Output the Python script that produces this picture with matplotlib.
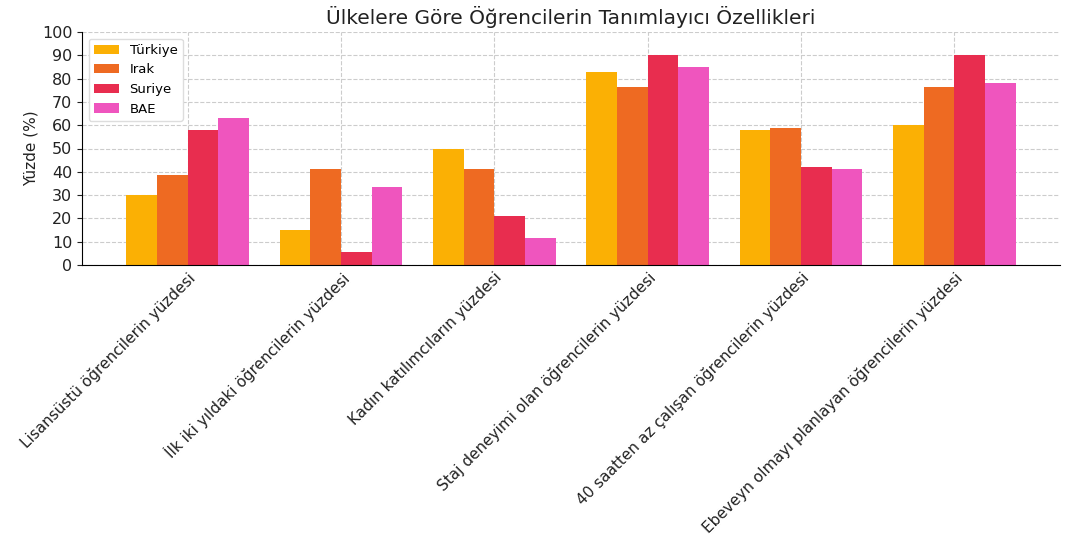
import matplotlib
matplotlib.use("Agg")
import matplotlib.pyplot as plt
import numpy as np

categories = [
    "Lisansüstü öğrencilerin yüzdesi",
    "İlk iki yıldaki öğrencilerin yüzdesi",
    "Kadın katılımcıların yüzdesi",
    "Staj deneyimi olan öğrencilerin yüzdesi",
    "40 saatten az çalışan öğrencilerin yüzdesi",
    "Ebeveyn olmayı planlayan öğrencilerin yüzdesi",
]
countries = ["Türkiye", "Irak", "Suriye", "BAE"]
turkiye = [30, 15, 50, 83, 58, 60]
irak = [38.5, 41, 41, 76.5, 59, 76.5]
suriye = [58, 5.5, 21, 90, 42, 90]
bae = [63, 33.5, 11.5, 85, 41, 78]
series = [turkiye, irak, suriye, bae]
colors = ["#FBB004", "#EE6A22", "#E82D4F", "#EF55BE"]

fig = plt.figure(figsize=(10.65, 5.45), dpi=100)
ax = fig.add_axes([82 / 1065, 1 - 265 / 545, (1060 - 82) / 1065, (265 - 32) / 545])

x = np.arange(len(categories))
w = 0.2
for i, (vals, c, name) in enumerate(zip(series, colors, countries)):
    ax.bar(x + (i - 1.5) * w, vals, w, color=c, label=name, zorder=2)

ax.set_xlim(-0.69, 5.69)
ax.set_ylim(0, 100)
ax.set_yticks(np.arange(0, 101, 10))
ax.tick_params(axis="y", labelsize=11.5, colors="#222222")
ax.tick_params(axis="x", length=0)
ax.set_xticks(x)
ax.set_xticklabels(categories, rotation=45, ha="right", rotation_mode="anchor",
                   fontsize=11, color="#222222")
ax.set_ylabel("Yüzde (%)", fontsize=11, color="#222222", labelpad=2)
ax.set_title("Ülkelere Göre Öğrencilerin Tanımlayıcı Özellikleri", fontsize=14.5,
             color="#222222", pad=6)
ax.grid(True, linestyle="--", color="#cccccc", linewidth=0.8, zorder=0)
ax.set_axisbelow(True)
for s in ["top", "right"]:
    ax.spines[s].set_visible(False)
ax.legend(loc="upper left", fontsize=9.5, framealpha=1, edgecolor="#dddddd",
          handlelength=1.9, borderaxespad=0.5)

fig.savefig("out.png", dpi=100)
